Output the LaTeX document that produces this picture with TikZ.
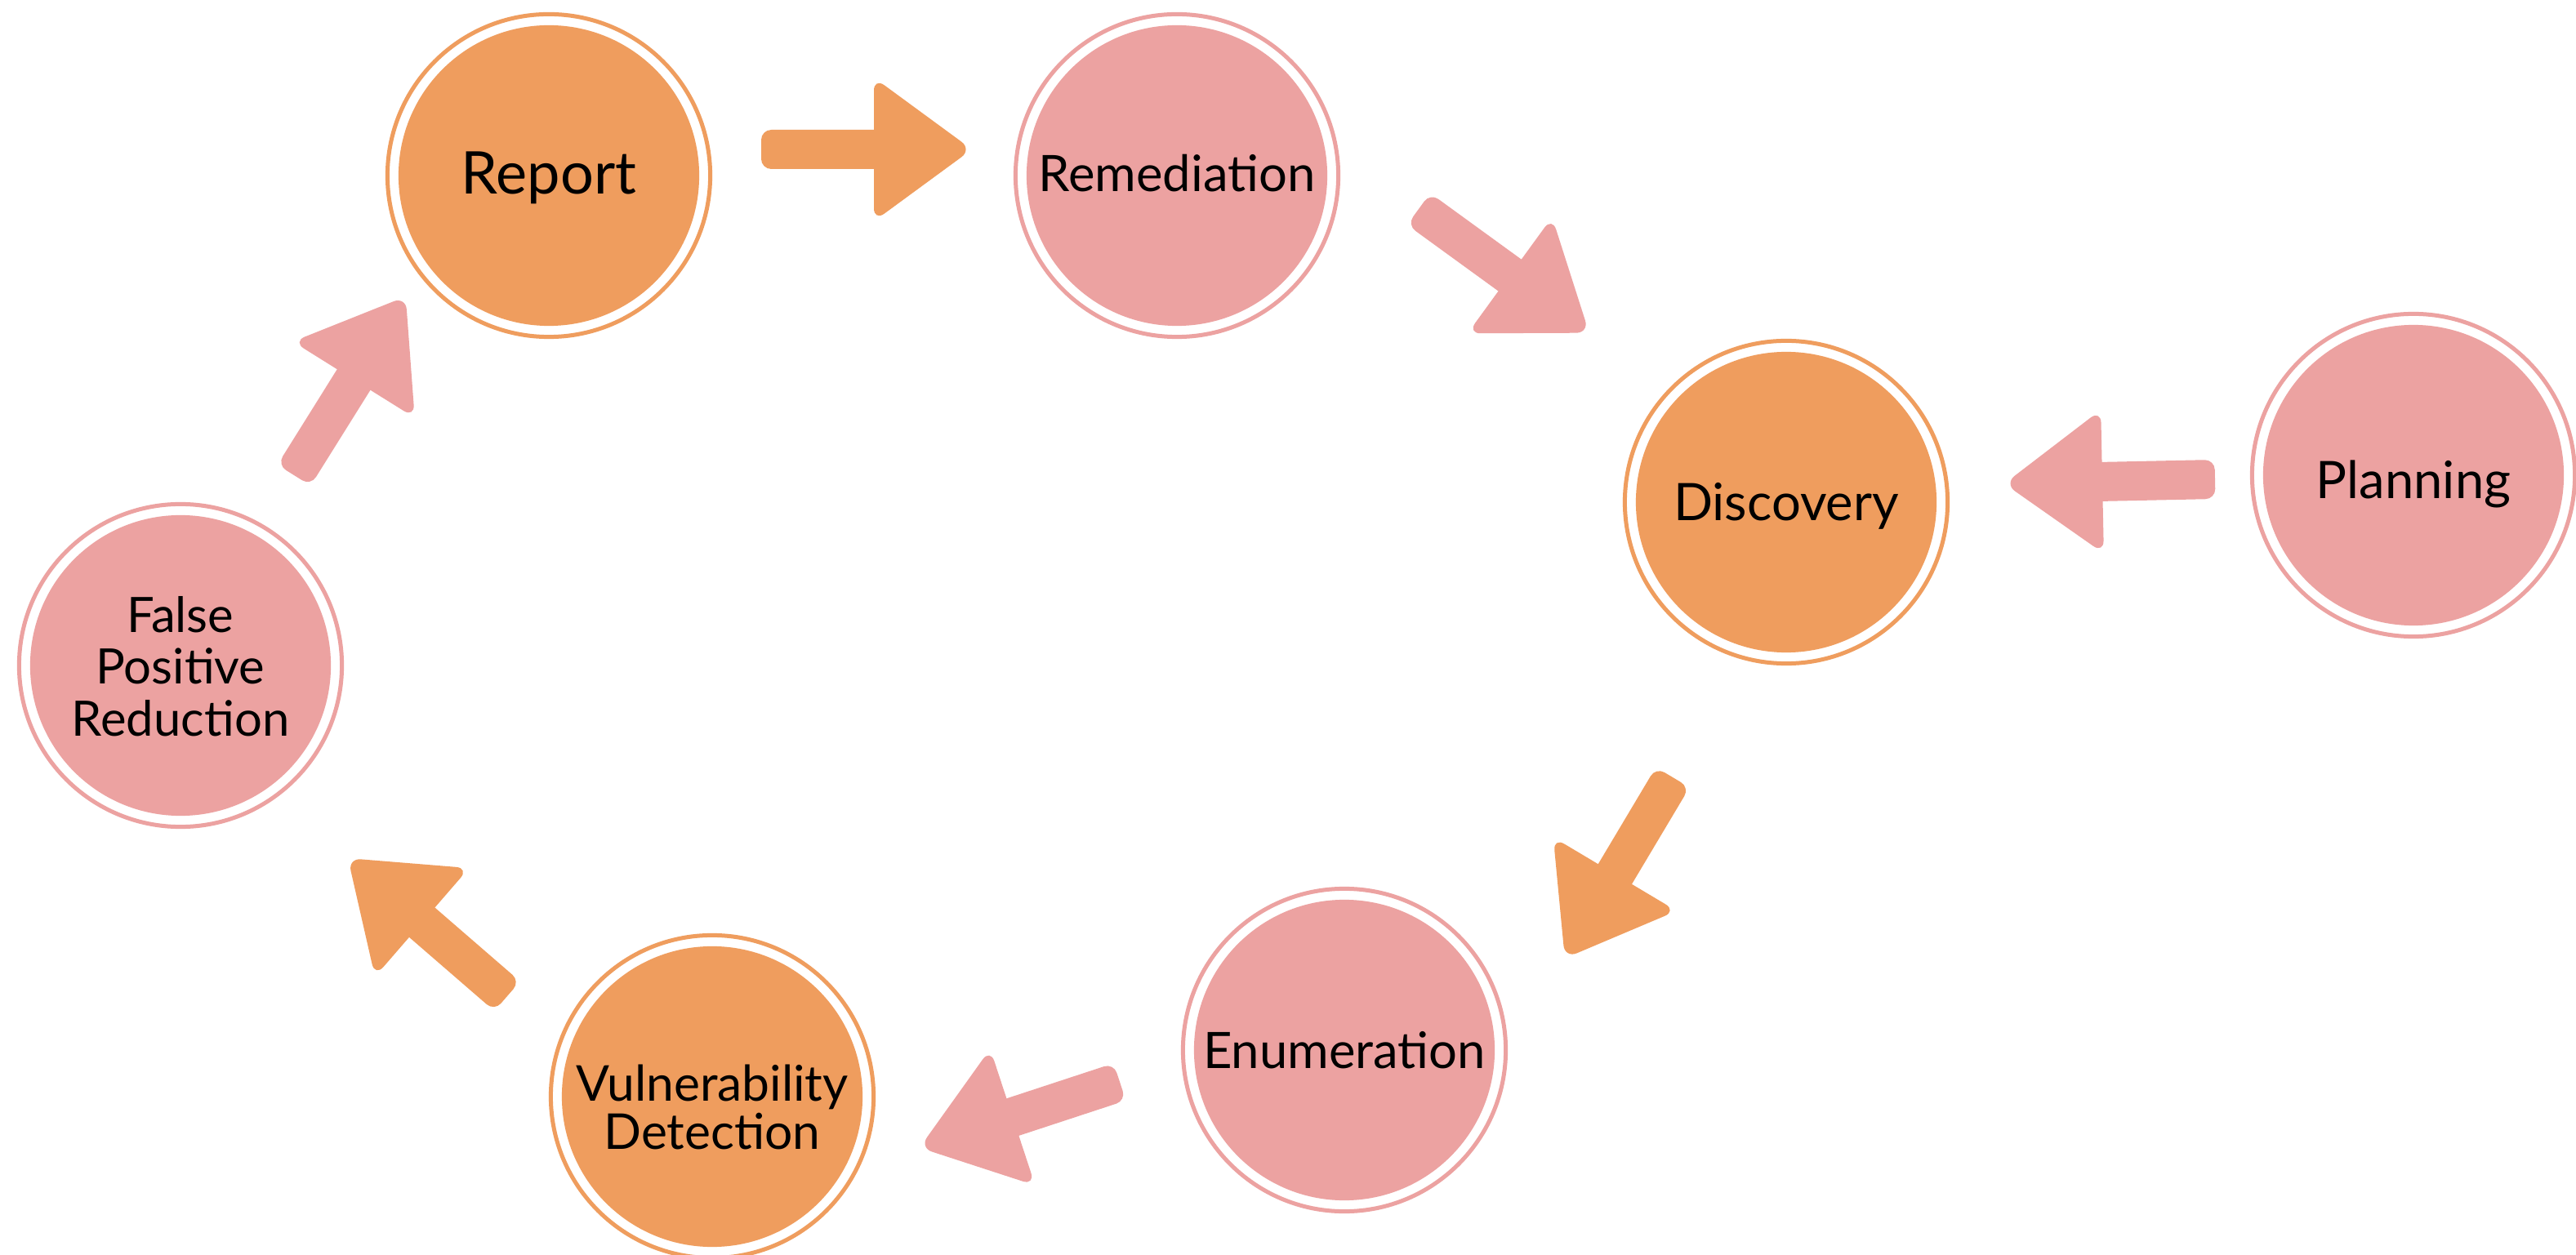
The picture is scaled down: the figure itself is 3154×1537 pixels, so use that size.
\documentclass[tikz,border=0pt]{standalone}
\usepackage{fontspec}
\setmainfont{Lato}
\definecolor{orng}{HTML}{EF9D5E}
\definecolor{pnk}{HTML}{ECA2A1}
\newcommand\blockarrow[4]{%
  \begin{scope}[shift={(#1,#2)}, rotate=#3]
    \fill[#4, rounded corners=3.5pt] (0,-24) rectangle (170,24);
    \fill[#4, rounded corners=4.5pt] (138,-88) -- (258,0) -- (138,88) -- cycle;
  \end{scope}}
\tikzset{
  stage/.style={circle, fill=#1, minimum size=3.68cm, inner sep=0pt},
  ring/.style={draw=#1, line width=0.05cm},
  label/.style={align=center, text=black, inner sep=0pt},
}
\begin{document}
\begin{tikzpicture}[x=0.01cm, y=-0.01cm]
\useasboundingbox (0,0) rectangle (3154,1537);
\fill[white] (0,0) rectangle (3154,1537);
% stages
\node[stage=orng] (report) at (672,215) {};
\node[stage=pnk] (remed) at (1441,215) {};
\node[stage=orng] (disc) at (2187,615) {};
\node[stage=pnk] (plan) at (2955,582) {};
\node[stage=pnk] (enum) at (1646,1286) {};
\node[stage=orng] (vuln) at (872,1343) {};
\node[stage=pnk] (fpr) at (221,815) {};
\foreach \n/\c in {report/orng, remed/pnk, disc/orng, plan/pnk, enum/pnk, vuln/orng, fpr/pnk}
  \draw[ring=\c] (\n.center) circle[radius=1.975cm];
% labels
\node[label, font=\fontsize{20.5}{20}\selectfont] (report-t) at ([yshift=-0.03cm]report.center) {Report};
\node[label, font=\fontsize{17.5}{18}\selectfont] (remed-t) at ([yshift=0.03cm]remed.center) {Remediation};
\node[label, font=\fontsize{18}{18}\selectfont] (disc-t) at ([yshift=-0.05cm]disc.center) {Discovery};
\node[label, font=\fontsize{18}{18}\selectfont] (plan-t) at ([yshift=-0.11cm]plan.center) {Planning};
\node[label, font=\fontsize{17.5}{18}\selectfont] (enum-t) at (enum.center) {Enumeration};
\node[label, font=\fontsize{17.2}{16.8}\selectfont] (vuln-t) at ([yshift=-0.13cm]vuln.center) {Vulnerability\\Detection};
\node[label, font=\fontsize{17}{18}\selectfont] (fpr-t) at ([yshift=-0.01cm]fpr.center) {False\\Positive\\Reduction};
% arrows
\blockarrow{932}{183}{0}{orng}
\blockarrow{1737}{256}{-36}{pnk}
\blockarrow{2712}{587}{181.2}{pnk}
\blockarrow{2048}{952}{-120.8}{orng}
\blockarrow{1371}{1325}{198.2}{pnk}
\blockarrow{621}{1220}{139.1}{orng}
\blockarrow{360}{582}{58}{pnk}
\end{tikzpicture}
\end{document}
